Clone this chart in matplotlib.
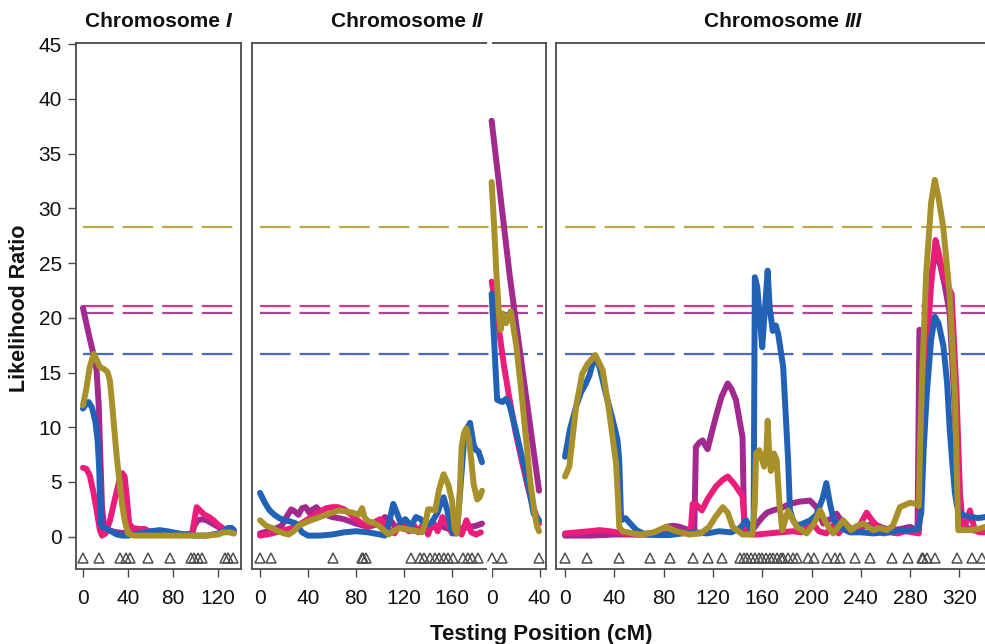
import numpy as np
import matplotlib
matplotlib.use("Agg")
import matplotlib.pyplot as plt
import matplotlib.transforms as mtransforms
from matplotlib.offsetbox import TextArea, HPacker, AnchoredOffsetbox

plt.rcParams['font.family'] = ['Liberation Sans', 'DejaVu Sans']
plt.rcParams['lines.scale_dashes'] = False

# ---------------- data ----------------
thresholds = [28.3, 21.05, 20.4, 16.7]          # gold, pink, purple, blue

# Chromosome I
purple1_x = [0, 3, 6, 9, 12, 14, 15.5, 17, 19, 22, 30, 40, 50, 60, 70, 80, 90, 97, 99, 102, 106, 110, 115, 120, 125, 130, 134]
purple1_y = [20.9, 19.5, 18.1, 16.8, 15.3, 12.0, 7.0, 2.5, 0.8, 0.6, 0.4, 0.3, 0.3, 0.3, 0.2, 0.2, 0.2, 0.3, 1.0, 1.5, 1.6, 1.5, 1.2, 0.9, 0.6, 0.5, 0.6]
pink1_x = [0, 3, 6, 9, 12, 15, 17, 20, 24, 28, 32, 35, 37, 39, 41, 44, 50, 55, 60, 70, 80, 90, 97, 99, 101, 104, 108, 112, 116, 120, 124, 128, 132, 134]
pink1_y = [6.3, 6.2, 5.6, 4.2, 2.5, 0.6, 0.1, 0.3, 1.5, 3.3, 5.0, 5.8, 5.5, 3.5, 1.2, 0.8, 0.7, 0.7, 0.4, 0.2, 0.2, 0.2, 0.3, 1.5, 2.7, 2.4, 2.0, 1.8, 1.5, 1.1, 0.8, 0.6, 0.4, 0.3]
blue1_x = [0, 2, 5, 8, 11, 13, 14.5, 15.5, 17, 20, 25, 30, 35, 40, 50, 60, 68, 75, 80, 90, 100, 110, 120, 125, 129, 132, 134]
blue1_y = [11.7, 12.0, 12.3, 11.8, 10.5, 8.8, 6.0, 1.2, 0.9, 0.8, 0.5, 0.2, 0.1, 0.1, 0.3, 0.5, 0.6, 0.5, 0.4, 0.2, 0.1, 0.1, 0.3, 0.5, 0.8, 0.8, 0.6]
gold1_x = [0, 3, 6, 9.5, 12, 15, 19, 22, 24, 26, 28, 30, 33, 35, 37, 40, 45, 60, 80, 100, 110, 120, 125, 130, 134]
gold1_y = [12.0, 13.5, 15.5, 16.7, 16.2, 15.5, 15.3, 15.0, 14.2, 12.0, 9.6, 7.3, 4.5, 2.8, 1.5, 0.3, 0.1, 0.1, 0.1, 0.1, 0.1, 0.2, 0.4, 0.4, 0.3]
markers1 = [0, 14, 33, 38, 42, 58, 77, 96, 99, 102, 106, 126, 129, 133]

# Chromosome II (first segment)
purple2_x = [0, 10, 18, 22, 26, 29, 32, 35, 38, 41, 44, 47, 50, 55, 60, 70, 80, 90, 100, 104, 108, 112, 120, 130, 140, 150, 160, 170, 180, 185]
purple2_y = [0.3, 0.6, 1.0, 1.8, 2.5, 2.3, 2.0, 2.6, 2.7, 2.2, 2.5, 2.7, 2.3, 2.0, 1.8, 1.6, 1.2, 0.9, 1.2, 1.8, 1.6, 1.0, 0.7, 0.5, 0.8, 1.0, 0.6, 0.8, 1.0, 1.2]
pink2_x = [0, 10, 20, 30, 40, 45, 50, 55, 60, 65, 70, 75, 80, 85, 90, 95, 100, 104, 108, 112, 116, 120, 124, 128, 132, 136, 140, 144, 148, 152, 156, 160, 164, 168, 172, 176, 180, 184]
pink2_y = [0.1, 0.3, 0.6, 0.9, 1.6, 2.0, 2.3, 2.6, 2.7, 2.7, 2.5, 2.1, 1.6, 1.2, 0.9, 1.3, 1.6, 1.2, 0.6, 0.3, 1.0, 1.3, 0.5, 1.1, 0.4, 1.2, 0.2, 1.4, 0.5, 1.8, 1.2, 0.3, 1.0, 0.2, 1.5, 0.4, 0.2, 0.4]
blue2_x = [0, 4, 8, 12, 16, 20, 25, 30, 35, 40, 50, 60, 70, 80, 90, 100, 104, 108, 111, 114, 117, 121, 126, 130, 134, 138, 143, 148, 151, 153, 156, 159, 161, 164, 167, 170, 172, 175, 178, 180, 182, 185]
blue2_y = [4.0, 3.1, 2.4, 2.0, 1.7, 1.5, 1.4, 1.2, 0.4, 0.1, 0.1, 0.2, 0.4, 0.5, 0.4, 0.2, 0.1, 1.5, 3.0, 2.2, 1.3, 1.6, 1.0, 1.8, 1.6, 1.0, 1.3, 2.2, 3.2, 3.6, 2.4, 0.8, 0.3, 0.3, 4.5, 8.8, 9.8, 10.4, 8.4, 7.9, 7.8, 6.8]
gold2_x = [0, 5, 10, 15, 20, 24, 28, 32, 40, 50, 60, 66, 72, 77, 82, 85, 87, 90, 94, 99, 104, 107, 111, 116, 121, 127, 131, 135, 138, 140, 142, 146, 149, 151, 153, 155, 157, 160, 162, 164, 166, 168, 170, 172, 174, 176, 178, 181, 183, 185]
gold2_y = [1.5, 1.0, 0.8, 0.5, 0.3, 0.2, 0.5, 1.0, 1.4, 1.8, 2.2, 2.4, 2.3, 2.2, 2.0, 2.6, 1.8, 1.4, 1.3, 1.0, 0.5, 0.2, 0.5, 0.8, 0.7, 0.6, 0.5, 0.4, 1.3, 2.5, 2.5, 2.4, 4.2, 5.0, 5.7, 5.2, 4.7, 3.3, 0.8, 0.3, 3.0, 8.2, 9.5, 9.9, 9.0, 7.0, 4.8, 3.4, 3.6, 4.2]
markers2 = [0, 9, 61, 85, 86, 88, 126, 133, 137, 142, 146, 149, 153, 157, 161, 169, 173, 177, 182]

# Chromosome II (second segment, local cM)
purple2b_x = [0, 5, 10, 15, 20, 25, 30, 35, 39.5]
purple2b_y = [38.0, 33.3, 28.6, 23.9, 19.8, 15.8, 11.8, 7.8, 4.2]
pink2b_x = [0, 3, 6, 10, 15, 20, 25, 30, 35, 39.5]
pink2b_y = [23.3, 21.5, 19.0, 15.8, 12.5, 9.5, 7.0, 4.6, 2.6, 1.2]
blue2b_x = [0, 2, 4.6, 9, 12, 15, 20, 25, 30, 35, 39.5]
blue2b_y = [22.2, 18.0, 12.5, 12.3, 12.6, 12.0, 9.8, 7.4, 5.0, 2.1, 1.5]
gold2b_x = [0, 2, 4, 6, 7.5, 9, 12, 16, 20.6, 25, 32, 36, 38, 39.5]
gold2b_y = [32.4, 28.5, 24.0, 20.5, 18.9, 20.4, 19.5, 20.6, 17.4, 13.0, 5.2, 2.0, 0.9, 0.5]
markers2b = [0, 9, 39.5]

# Chromosome III
purple3_x = [0, 20, 40, 60, 75, 82, 88, 93, 98, 103, 104.9, 106.2, 109, 111.7, 114, 115.7, 119, 122.5, 127, 132, 135, 138.7, 141, 144, 145.4, 148, 152, 156, 160.3, 164, 168.5, 175, 182.5, 190, 198.7, 204, 209.5, 215, 220.3, 224, 228.4, 235, 242, 250, 258, 265, 272, 279.8, 286, 287.5, 289, 290.5, 292, 295, 298, 301, 304, 308, 312, 316, 319, 320.4, 323, 330, 341, 350]
purple3_y = [0.1, 0.1, 0.2, 0.2, 0.4, 0.9, 1.0, 0.9, 0.7, 0.6, 0.6, 8.2, 8.6, 8.8, 8.3, 8.0, 9.5, 11.0, 12.8, 14.0, 13.5, 12.5, 11.0, 9.1, 0.3, 0.5, 0.6, 1.2, 1.8, 2.2, 2.4, 2.6, 3.0, 3.2, 3.3, 2.7, 1.2, 1.6, 2.1, 1.5, 1.0, 0.6, 0.9, 1.2, 0.8, 0.6, 0.7, 0.9, 0.6, 18.9, 18.6, 17.0, 19.0, 22.0, 24.5, 26.0, 25.0, 23.0, 20.5, 12.0, 4.0, 2.4, 1.0, 0.6, 0.5, 0.5]
pink3_x = [0, 10, 20, 28, 36, 42, 50, 60, 70, 80, 90, 98, 102, 103.6, 106, 111, 116, 122.5, 128, 132, 136, 138.7, 144, 146, 147, 152, 156, 165, 175, 185, 192, 197, 201, 206, 212, 217, 222, 228, 233, 238, 244.7, 249, 253, 258, 264, 270, 276, 282, 287, 289, 291, 294, 297, 300.6, 303, 306.8, 310, 313.6, 317.6, 320.4, 323, 326, 328.5, 330.5, 332.5, 336, 341, 350]
pink3_y = [0.3, 0.4, 0.5, 0.6, 0.5, 0.4, 0.3, 0.2, 0.2, 0.3, 0.3, 0.4, 0.5, 3.0, 3.0, 2.4, 3.5, 4.6, 5.2, 5.5, 5.0, 4.6, 3.7, 0.8, 0.3, 0.2, 0.2, 0.3, 0.4, 0.5, 0.4, 1.0, 1.2, 0.5, 0.3, 1.0, 0.3, 1.2, 0.4, 0.8, 2.2, 1.5, 1.0, 0.3, 0.4, 0.3, 0.5, 0.4, 0.3, 5.0, 13.0, 18.0, 23.0, 27.1, 26.0, 24.0, 23.0, 22.2, 13.1, 4.0, 0.6, 1.5, 2.4, 1.5, 0.6, 0.4, 0.4, 0.4]
blue3_x = [0, 4, 9, 13, 17, 20, 24, 28, 33, 38, 42.5, 44, 45.5, 49, 53, 58, 65, 75, 85, 95, 105, 115, 125, 135, 142, 147, 151, 153, 154, 156, 158, 160, 162, 164.4, 166, 168.5, 171, 173, 177, 181, 182.5, 185, 188, 193, 199, 204, 209, 212, 215, 218, 224, 231, 240, 250, 260, 270, 280, 286.5, 289, 291, 293.5, 297, 300, 303, 307, 310, 312, 314, 316.3, 318, 320.4, 325, 330, 335, 341, 350]
blue3_y = [7.3, 9.8, 11.9, 13.2, 14.0, 14.8, 16.5, 15.5, 13.1, 11.0, 8.9, 7.0, 1.5, 1.7, 1.2, 0.6, 0.2, 0.15, 0.15, 0.3, 0.4, 0.3, 0.5, 0.4, 0.8, 1.5, 0.6, 1.0, 23.7, 22.8, 20.0, 17.3, 20.5, 24.3, 21.0, 18.8, 19.3, 18.5, 15.5, 7.0, 2.4, 1.5, 1.0, 1.2, 1.5, 2.0, 3.5, 4.9, 3.0, 1.5, 0.8, 0.4, 0.4, 0.3, 0.4, 0.5, 0.6, 0.7, 2.2, 8.0, 13.1, 18.0, 20.1, 19.5, 17.4, 14.0, 10.0, 7.0, 4.0, 2.8, 2.1, 1.9, 1.8, 1.7, 1.8, 1.8]
gold3_x = [0, 3.5, 9, 14, 18.4, 24.6, 30.6, 36, 41.4, 43, 44, 46.7, 55, 63, 72, 82, 90, 101, 110, 117, 122, 128, 132, 136, 144, 152, 154, 155, 157.6, 161.6, 163.5, 164.4, 165.5, 167, 169.5, 171.7, 174, 176.3, 181, 188, 196, 202, 207, 212, 217.6, 221, 225.7, 232, 237, 242, 250, 255, 261, 266, 271.7, 279.8, 285, 287, 288, 290, 293, 297, 300, 303, 306.8, 312, 316.3, 319, 324, 328.5, 335, 341, 350]
gold3_y = [5.5, 6.4, 11.9, 14.9, 15.8, 16.6, 15.2, 11.3, 6.7, 3.5, 0.9, 0.5, 0.3, 0.2, 0.4, 0.9, 0.5, 0.2, 0.3, 0.9, 1.8, 2.7, 2.2, 0.9, 0.2, 0.2, 3.0, 7.6, 7.9, 6.4, 8.0, 10.6, 8.0, 6.0, 7.6, 7.0, 3.0, 0.6, 2.4, 0.9, 0.3, 1.2, 2.4, 1.2, 0.3, 0.8, 1.5, 0.6, 1.0, 1.2, 0.6, 0.8, 0.6, 1.0, 2.7, 3.1, 3.0, 2.8, 8.0, 15.5, 24.0, 30.5, 32.6, 31.0, 28.3, 22.2, 13.1, 0.6, 0.6, 0.6, 0.7, 0.9, 1.0]
markers3 = [0, 17.6, 44, 69, 85.2, 104.1, 116.3, 127.1, 142, 145, 148, 151, 154, 157, 160, 163, 166, 169, 172, 175, 177, 181, 185, 188, 197.5, 201.6, 212.4, 219.1, 223.2, 235.4, 247.5, 265.1, 278.6, 289.4, 290.7, 293.5, 300.2, 317.8, 330, 338.1]

# x-axis ticks
ticks1 = [0, 40, 80, 120]
ticks2 = [0, 40, 80, 120, 160]
ticks2b = [0, 40]
ticks3 = [0, 40, 80, 120, 160, 200, 240, 280, 320]
yticks = [0, 5, 10, 15, 20, 25, 30, 35, 40, 45]

# ---------------- style ----------------
C_PURPLE = '#A2298D'
C_PINK = '#EA1D7B'
C_BLUE = '#2262B6'
C_GOLD = '#A8912A'
TH_COLORS = ['#BFA647', '#D9398A', '#A6479A', '#4B69B8']
SPINE = '#4a4a4a'
LW = 4.3
OFF2B = 193.0

W, H = 985, 644
fig = plt.figure(figsize=(W / 100, H / 100), dpi=100)
fig.patch.set_facecolor('white')

def rect(l, r, t=43, b=569):
    return [l / W, 1 - b / H, (r - l) / W, (b - t) / H]

ax1 = fig.add_axes(rect(76, 241))
ax2 = fig.add_axes(rect(252, 546))
ax3 = fig.add_axes(rect(556, 1010))

ylim = (-2.95, 45.1)

def curve(ax, x, y, c, off=0.0):
    ax.plot(np.asarray(x) + off, y, color=c, lw=LW, solid_capstyle='round',
            solid_joinstyle='round', zorder=3)

def style(ax, xlim, th_end):
    ax.set_xlim(*xlim)
    ax.set_ylim(*ylim)
    for s in ax.spines.values():
        s.set_color(SPINE)
        s.set_linewidth(1.3)
    ax.tick_params(axis='x', direction='out', length=5.8, width=1.0, color=SPINE,
                   pad=8.5, labelsize=15, labelcolor='#111111')
    for thr, c in zip(thresholds, TH_COLORS):
        ax.plot([0, th_end], [thr, thr], color=c, lw=1.6, dashes=(22, 6.5), zorder=2)

def markers(ax, xs, off=0.0):
    ax.plot(np.asarray(xs) + off, np.full(len(xs), -1.95), linestyle='none', marker='^',
            ms=6.5, mfc='none', mec='#505050', mew=1.1, zorder=4)

# Panel I
style(ax1, (-6.2, 140.4), 137)
for (x, y, c) in [(purple1_x, purple1_y, C_PURPLE), (pink1_x, pink1_y, C_PINK),
                  (blue1_x, blue1_y, C_BLUE), (gold1_x, gold1_y, C_GOLD)]:
    curve(ax1, x, y, c)
markers(ax1, markers1)
ax1.set_xticks(ticks1)
ax1.set_yticks(yticks)
ax1.tick_params(axis='y', direction='out', length=5.8, width=1.0, color=SPINE,
                pad=4.3, labelsize=15, labelcolor='#111111')

# Panel II
style(ax2, (-6.7, 238.3), 236)
for (x, y, c) in [(purple2_x, purple2_y, C_PURPLE), (pink2_x, pink2_y, C_PINK),
                  (blue2_x, blue2_y, C_BLUE), (gold2_x, gold2_y, C_GOLD)]:
    curve(ax2, x, y, c)
for (x, y, c) in [(purple2b_x, purple2b_y, C_PURPLE), (pink2b_x, pink2b_y, C_PINK),
                  (blue2b_x, blue2b_y, C_BLUE), (gold2b_x, gold2b_y, C_GOLD)]:
    curve(ax2, x, y, c, OFF2B)
markers(ax2, markers2)
markers(ax2, markers2b, OFF2B)
ax2.set_xticks(list(ticks2) + [t + OFF2B for t in ticks2b])
ax2.set_xticklabels([str(t) for t in ticks2] + [str(t) for t in ticks2b])
ax2.set_yticks([])
# break marks
bt = mtransforms.blended_transform_factory(ax2.transData, ax2.transAxes)
for y0, y1 in [(0.985, 1.015), (-0.015, 0.015)]:
    ax2.plot([191, 191], [y0, y1], transform=bt, color='white', lw=3.5,
             clip_on=False, zorder=10, solid_capstyle='butt')

# Panel III
style(ax3, (-7.3, 361), 365)
for (x, y, c) in [(purple3_x, purple3_y, C_PURPLE), (pink3_x, pink3_y, C_PINK),
                  (blue3_x, blue3_y, C_BLUE), (gold3_x, gold3_y, C_GOLD)]:
    curve(ax3, x, y, c)
markers(ax3, markers3)
ax3.set_xticks(ticks3)
ax3.set_yticks([])

# Titles with italic numerals
def title(ax, roman, xc):
    tp = dict(fontsize=15, fontweight='bold', color='#111111', family='Liberation Sans')
    t1 = TextArea("Chromosome ", textprops=tp)
    t2 = TextArea(roman, textprops=dict(tp, fontstyle='italic'))
    box = HPacker(children=[t1, t2], align='baseline', pad=0, sep=0)
    ab = AnchoredOffsetbox(loc='lower center', child=box, pad=0, borderpad=0, frameon=False,
                           bbox_to_anchor=(xc, 1.0 + 12 / 526), bbox_transform=ax.transAxes)
    ax.add_artist(ab)

title(ax1, 'I', 0.5)
title(ax2, 'II', 0.527)
title(ax3, 'III', 0.5)

fig.text(20 / W, 1 - 308 / H, 'Likelihood Ratio', rotation=90, ha='center', va='center',
         fontsize=15.5, fontweight='bold', color='#111111')
fig.text(541 / W, 1 - 640 / H, 'Testing Position (cM)', ha='center', va='baseline',
         fontsize=16, fontweight='bold', color='#111111')

fig.savefig('out.png', dpi=100)
